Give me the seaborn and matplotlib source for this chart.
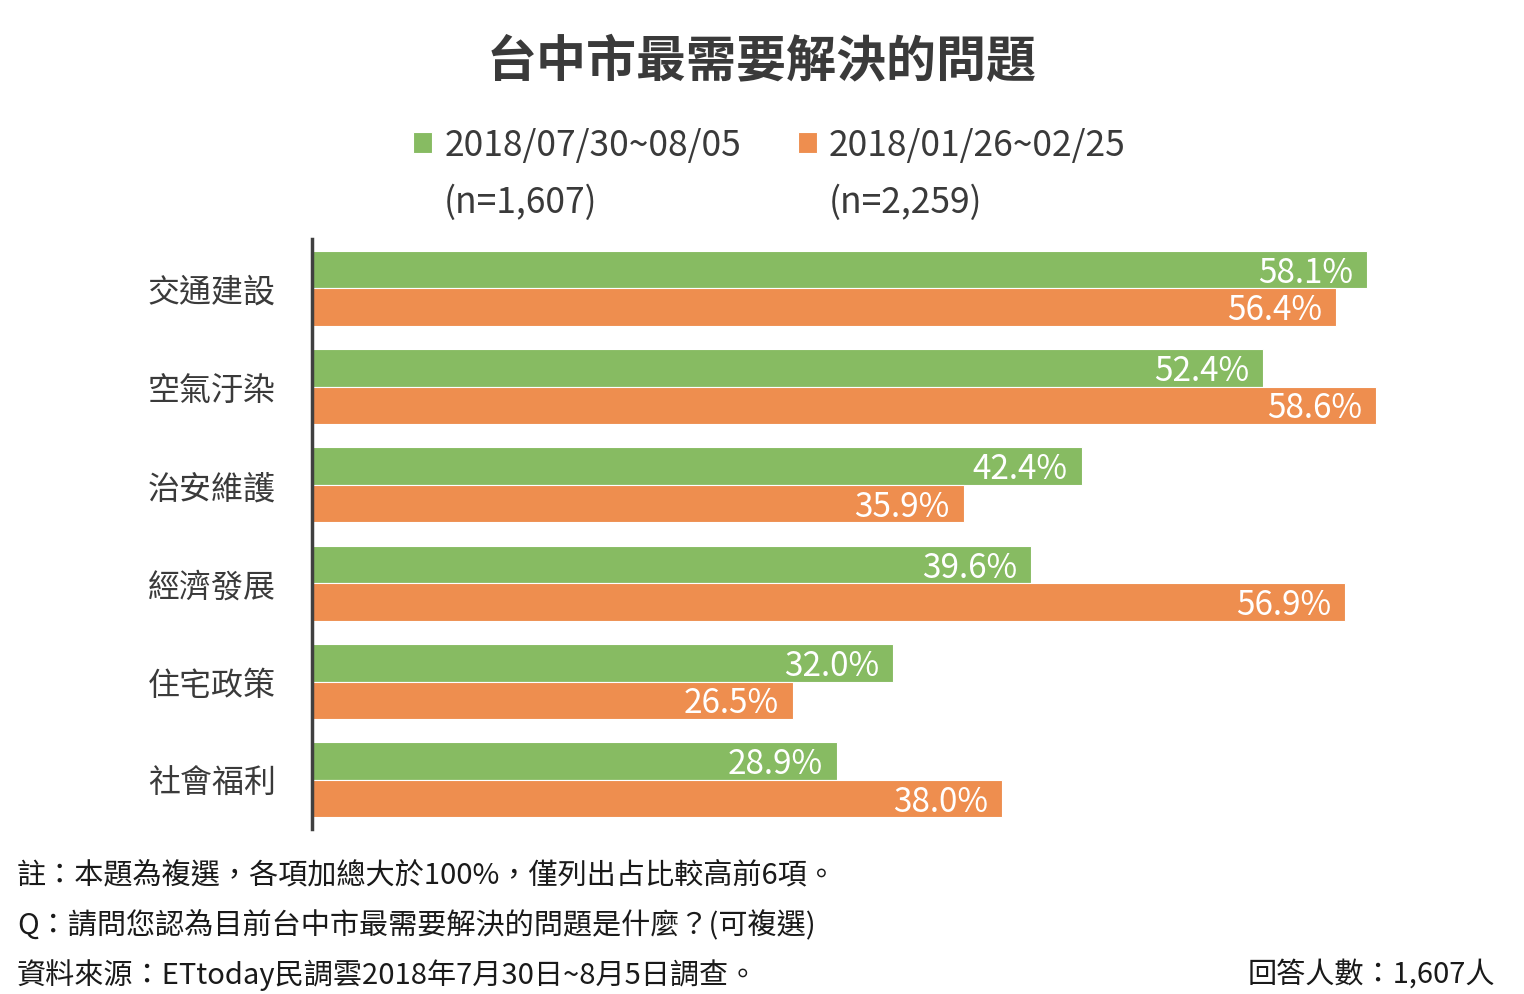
import matplotlib
matplotlib.use("Agg")
import matplotlib.pyplot as plt
import pandas as pd
import seaborn as sns

# ── DATA ───────────────────────────────────────────────────────────────────────
CATEGORIES = ["交通建設", "空氣汙染", "治安維護", "經濟發展", "住宅政策", "社會福利"]
SERIES = ["2018/07/30~08/05", "2018/01/26~02/25"]
SAMPLE_N = ["(n=1,607)", "(n=2,259)"]
VALUES_AUG = [58.1, 52.4, 42.4, 39.6, 32.0, 28.9]
VALUES_JAN = [56.4, 58.6, 35.9, 56.9, 26.5, 38.0]

TITLE = "台中市最需要解決的問題"
NOTES = [
    "註：本題為複選，各項加總大於100%，僅列出占比較高前6項。",
    "Q：請問您認為目前台中市最需要解決的問題是什麼？(可複選)",
    "資料來源：ETtoday民調雲2018年7月30日~8月5日調查。",
]
RESPONDENTS = "回答人數：1,607人"

COLORS = ["#87BB62", "#EE8E4F"]
TEXT_DARK = "#3a3a3a"
# ───────────────────────────────────────────────────────────────────────────────

df = pd.DataFrame({
    "category": CATEGORIES * 2,
    "value": VALUES_AUG + VALUES_JAN,
    "series": [SERIES[0]] * len(CATEGORIES) + [SERIES[1]] * len(CATEGORIES),
})

sns.set_theme(style="white")
plt.rcParams["font.family"] = ["Noto Sans CJK TC", "DejaVu Sans"]

fig = plt.figure(figsize=(15.24, 9.95), dpi=100)
ax = fig.add_axes([312 / 1524, 1 - 830 / 995, (1510 - 312) / 1524, 590 / 995])

sns.barplot(data=df, y="category", x="value", hue="series", order=CATEGORIES,
            hue_order=SERIES, palette=COLORS, width=0.76, orient="h",
            edgecolor="white", linewidth=0.8, saturation=1, ax=ax)

ax.set_xlim(0, 66)
ax.set_ylim(5.5, -0.5)
ax.set_xlabel("")
ax.set_ylabel("")
ax.set_xticks([])
for side in ["top", "right", "bottom"]:
    ax.spines[side].set_visible(False)
ax.spines["left"].set_color("#404040")
ax.spines["left"].set_linewidth(2.5)
ax.tick_params(axis="y", length=0, pad=26, labelsize=23, labelcolor=TEXT_DARK)

# value labels inside the bar ends
for cont in ax.containers:
    for p in cont:
        w = p.get_width()
        ax.annotate(f"{w:.1f}%", (w, p.get_y() + p.get_height() / 2),
                    xytext=(-10, -2), textcoords="offset points",
                    ha="right", va="center", color="white", fontsize=24,
                    fontweight="medium")

# legend
leg = ax.legend(loc="center left", bbox_to_anchor=(413 / 1524, 1 - 146 / 995),
                bbox_transform=fig.transFigure, ncol=2, frameon=False,
                fontsize=25.5, borderpad=0, borderaxespad=0,
                handlelength=0.55, handleheight=0.55, handletextpad=0.33,
                columnspacing=1.6)
for t in leg.get_texts():
    t.set_color(TEXT_DARK)

fig.canvas.draw()
inv = fig.transFigure.inverted()
for t, n in zip(leg.get_texts(), SAMPLE_N):
    x0 = inv.transform(t.get_window_extent().p0)[0]
    fig.text(x0, 1 - 203 / 995, n, fontsize=25.5, color=TEXT_DARK,
             ha="left", va="center")

fig.text(0.5, 1 - 62 / 995, TITLE, fontsize=36, fontweight="bold",
         color=TEXT_DARK, ha="center", va="center")

for i, note in enumerate(NOTES):
    fig.text(17 / 1524, 1 - (875 + 50 * i) / 995, note, fontsize=21,
             color="#1a1a1a", ha="left", va="center")
fig.text(1495 / 1524, 1 - 975 / 995, RESPONDENTS, fontsize=21,
         color="#1a1a1a", ha="right", va="center")

fig.savefig("out.png", dpi=100)
